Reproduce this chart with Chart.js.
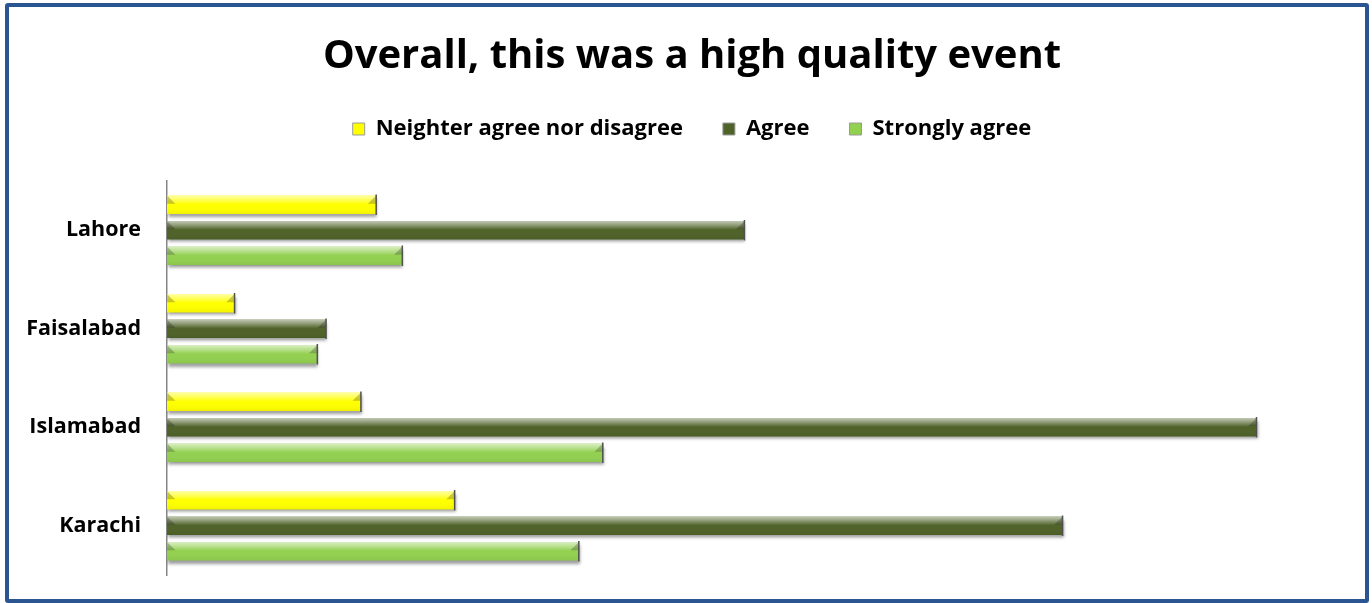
<!DOCTYPE html>
<html>
<head>
<meta charset="utf-8">
<script src="https://cdn.jsdelivr.net/npm/chart.js"></script>
<style>
  html, body { margin: 0; padding: 0; background: #fff; }
  #frame {
    position: absolute; left: 5px; top: 3px; width: 1364px; height: 600px;
    box-sizing: border-box; border: 4px solid #2b5590; border-radius: 3px;
  }
  #wrap { position: absolute; left: 0; top: 0; width: 1372px; height: 603px; }
</style>
</head>
<body>
<div id="frame"></div>
<div id="wrap"><canvas id="myChart"></canvas></div>
<script>
// DATA
const cidades = ['Lahore', 'Faisalabad', 'Islamabad', 'Karachi'];
const neutro = [9.6, 3.1, 8.9, 13.2];
const concorda = [26.5, 7.3, 50.0, 41.1];
const concordaMuito = [10.8, 6.9, 20.0, 18.9];
const nomesSeries = ['Neighter agree nor disagree', 'Agree', 'Strongly agree'];
const cores = ['#ffff00', '#4f6228', '#92d050'];

// efeito de bisel nas barras
const bisel = {
    id: 'bisel',
    beforeDatasetsDraw(chart) {
        const c = chart.ctx;
        c.save();
        c.shadowColor = 'rgba(0,0,0,0.38)';
        c.shadowOffsetY = 3;
        c.shadowOffsetX = 1;
        c.shadowBlur = 3;
    },
    afterDatasetsDraw(chart) {
        const c = chart.ctx;
        c.restore();
        c.save();
        chart.data.datasets.forEach((ds, i) => {
            chart.getDatasetMeta(i).data.forEach(bar => {
                const h = bar.height;
                const top = bar.y - h / 2;
                const bottom = bar.y + h / 2;
                const x0 = bar.base;
                const x1 = bar.x;
                const bev = Math.min(h * 0.45, (x1 - x0) / 2);
                // brilho em cima
                const g = c.createLinearGradient(0, top, 0, bottom);
                g.addColorStop(0, 'rgba(255,255,255,0.65)');
                g.addColorStop(0.2, 'rgba(255,255,255,0.4)');
                g.addColorStop(0.45, 'rgba(255,255,255,0.05)');
                g.addColorStop(0.5, 'rgba(255,255,255,0)');
                g.addColorStop(1, 'rgba(0,0,0,0.05)');
                c.fillStyle = g;
                c.fillRect(x0, top, x1 - x0, h);
                // triangulo esquerdo
                c.fillStyle = 'rgba(0,0,0,0.22)';
                c.beginPath();
                c.moveTo(x0, top);
                c.lineTo(x0 + bev, top + bev);
                c.lineTo(x0, top + bev);
                c.closePath();
                c.fill();
                // triangulo direito
                c.beginPath();
                c.moveTo(x1, top);
                c.lineTo(x1, top + bev);
                c.lineTo(x1 - bev, top + bev);
                c.closePath();
                c.fill();
                // linha no fim
                c.strokeStyle = '#505050';
                c.lineWidth = 1.5;
                c.beginPath();
                c.moveTo(x1, top - 1);
                c.lineTo(x1, bottom + 1);
                c.stroke();
            });
        });
        c.restore();
    }
};

const ctx = document.getElementById('myChart');
const fonte = 'Open Sans';

new Chart(ctx, {
    type: 'bar',
    data: {
        labels: cidades,
        datasets: [
            { label: nomesSeries[0], data: neutro, backgroundColor: cores[0] },
            { label: nomesSeries[1], data: concorda, backgroundColor: cores[1] },
            { label: nomesSeries[2], data: concordaMuito, backgroundColor: cores[2] }
        ]
    },
    plugins: [bisel],
    options: {
        indexAxis: 'y',
        responsive: true,
        maintainAspectRatio: false,
        animation: false,
        datasets: {
            bar: {
                categoryPercentage: 0.777,
                barPercentage: 0.725,
                borderWidth: 0
            }
        },
        layout: {
            padding: { top: 0, right: 0, bottom: 28, left: 12 }
        },
        scales: {
            x: {
                position: 'top',
                min: 0,
                max: 55.3,
                afterFit(scale) { scale.height = 31; },
                grid: { display: false, drawTicks: false },
                border: { display: false },
                ticks: { display: false }
            },
            y: {
                afterFit(scale) { scale.width = 155; },
                // tick invisivel so para afastar os rotulos do eixo
                grid: {
                    display: true,
                    drawOnChartArea: false,
                    drawTicks: true,
                    tickLength: 26,
                    tickColor: 'rgba(0,0,0,0)',
                    color: 'rgba(0,0,0,0)'
                },
                border: { display: true, color: '#868686', width: 1.5 },
                ticks: {
                    padding: 0,
                    color: '#000',
                    font: { family: fonte, weight: 'bold', size: 21.5 }
                }
            }
        },
        plugins: {
            title: {
                display: true,
                text: 'Overall, this was a high quality event',
                color: '#000',
                font: { family: fonte, weight: 'bold', size: 40, lineHeight: 1 },
                padding: { top: 37, bottom: 1 }
            },
            legend: {
                display: true,
                position: 'top',
                labels: {
                    color: '#000',
                    boxWidth: 12,
                    boxHeight: 12,
                    padding: 40,
                    font: { family: fonte, weight: 'bold', size: 22 },
                    generateLabels(chart) {
                        const itens = Chart.defaults.plugins.legend.labels.generateLabels(chart);
                        itens.forEach(it => { it.strokeStyle = '#9a9a9a'; it.lineWidth = 1; });
                        return itens;
                    }
                }
            },
            tooltip: { enabled: false }
        }
    }
});
</script>
</body>
</html>
